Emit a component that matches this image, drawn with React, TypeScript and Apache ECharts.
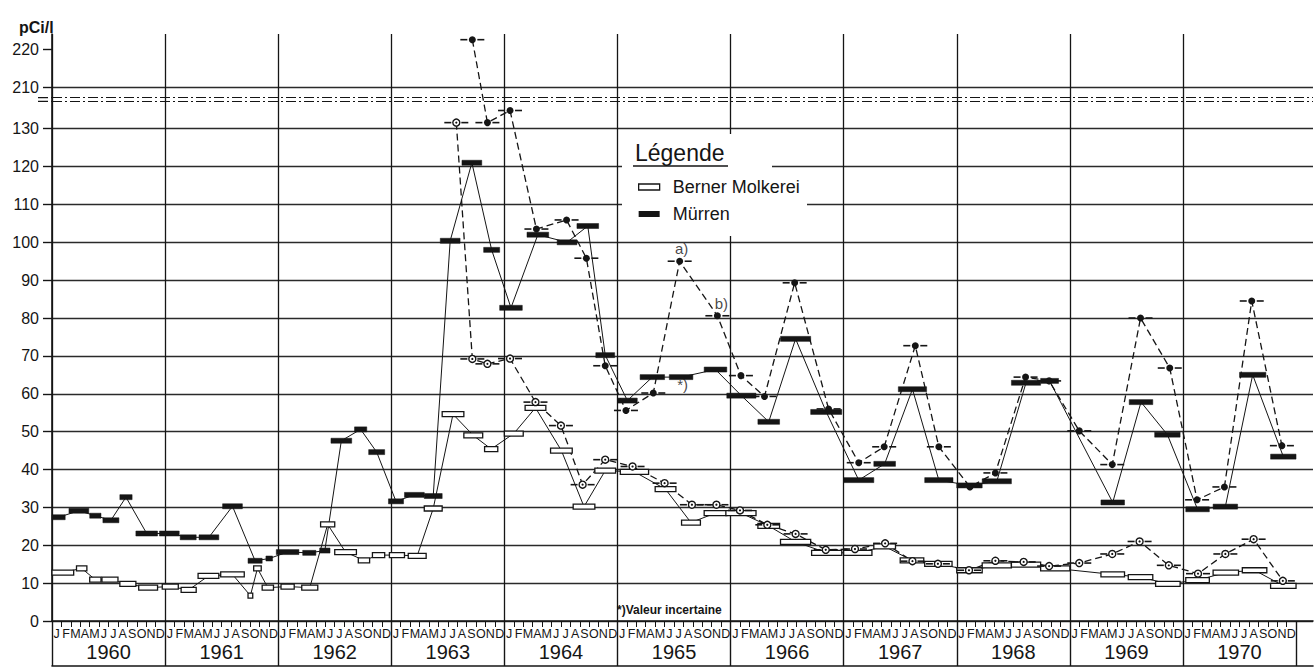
import React, { useEffect, useRef } from "react";
import * as echarts from "echarts";

// ---------- tick labels ----------
const monthLetters = ["J", "F", "M", "A", "M", "J", "J", "A", "S", "O", "N", "D"];
const yearLabels = ["1960", "1961", "1962", "1963", "1964", "1965", "1966", "1967", "1968", "1969", "1970"];
const yTickValues = [0, 10, 20, 30, 40, 50, 60, 70, 80, 90, 100, 110, 120, 130, 210, 220];
const BREAK_SHIFT = 69; // values above the break are drawn 69 units lower
const breakMarks = [137.3, 138.3];

// ---------- data: [start month, end month, pCi/l]  (month 0 = Jan 1960) ----------
const murrenBars: [number, number, number][] = [
  [0, 1.4, 27.4], [1.8, 3.9, 29.1], [4.0, 5.2, 27.8], [5.4, 7.1, 26.6], [7.2, 8.5, 32.7],
  [8.9, 11.2, 23.1], [11.4, 13.5, 23.1], [13.6, 15.3, 22.1], [15.6, 17.7, 22.1], [18.1, 20.2, 30.3],
  [20.8, 22.3, 15.9], [22.7, 23.4, 16.5], [23.8, 26.2, 18.2], [26.6, 28.0, 18.0], [28.4, 29.5, 18.6],
  [29.6, 31.8, 47.6], [32.1, 33.4, 50.6], [33.6, 35.3, 44.6], [35.7, 37.3, 31.6], [37.4, 39.5, 33.3],
  [39.5, 41.4, 33.0], [41.2, 43.3, 100.4], [43.5, 45.6, 121.0], [45.8, 47.5, 98.0], [47.5, 49.9, 82.7],
  [50.4, 52.7, 102.0], [53.6, 55.7, 100.0], [55.7, 58.0, 104.3], [57.7, 59.7, 70.2], [60.0, 62.1, 58.2],
  [62.4, 65.0, 64.4], [65.5, 68.0, 64.4], [69.2, 71.6, 66.4], [71.6, 74.7, 59.5], [74.9, 77.2, 52.6],
  [77.3, 80.5, 74.5], [80.5, 83.8, 55.2], [84.0, 87.2, 37.2], [87.2, 89.5, 41.5], [89.8, 92.8, 61.2],
  [92.6, 95.6, 37.2], [96.0, 98.7, 35.8], [98.7, 101.8, 36.9], [101.8, 104.9, 62.9], [104.9, 106.8, 63.4],
  [111.3, 113.8, 31.3], [114.3, 116.8, 57.8], [117.0, 119.7, 49.2], [120.3, 122.8, 29.5], [123.2, 125.8, 30.2],
  [126.0, 128.8, 65.0], [129.3, 132.0, 43.4],
];

const bernerBars: [number, number, number][] = [
  [0, 2.3, 12.8], [2.6, 3.7, 13.9], [4.0, 5.2, 10.9], [5.3, 7.0, 10.9], [7.2, 8.9, 9.8],
  [9.2, 11.2, 8.8], [11.7, 13.4, 9.1], [13.7, 15.3, 8.2], [15.5, 17.7, 11.9], [17.9, 20.4, 12.3],
  [20.8, 21.3, 6.7], [21.4, 22.2, 13.9], [22.3, 23.5, 8.8], [24.3, 25.7, 9.1], [26.5, 28.2, 8.8],
  [28.5, 30.0, 25.5], [30.0, 32.3, 18.2], [32.5, 33.7, 16.0], [34.0, 35.3, 17.4], [35.8, 37.4, 17.4],
  [37.8, 39.7, 17.2], [39.5, 41.4, 29.7], [41.4, 43.7, 54.6], [43.7, 45.7, 49.0], [45.9, 47.3, 45.4],
  [48.0, 50.0, 49.5], [50.2, 52.4, 56.3], [52.9, 55.2, 45.0], [55.3, 57.6, 30.2], [57.6, 59.8, 39.7],
  [60.3, 63.3, 39.4], [64.0, 66.2, 34.8], [66.8, 68.8, 26.0], [69.2, 71.6, 28.5], [71.5, 74.7, 28.5],
  [74.9, 77.2, 25.1], [77.3, 80.5, 20.9], [80.6, 83.8, 18.0], [84.0, 87.0, 18.0], [87.2, 89.5, 19.7],
  [90.0, 92.5, 16.0], [92.6, 95.5, 15.1], [96.0, 98.7, 13.4], [98.7, 101.8, 14.7], [101.8, 104.9, 14.9],
  [104.9, 108.0, 13.9], [111.3, 113.8, 12.3], [114.2, 116.8, 11.6], [117.1, 119.7, 9.8], [120.3, 122.8, 10.8],
  [123.2, 125.9, 12.8], [126.3, 128.9, 13.4], [129.3, 132.0, 9.3],
];

// ---------- data: single samples [month, pCi/l] ----------
const murrenPoints: [number, number][] = [
  [44.6, 222.5], [46.2, 131.6], [48.6, 134.8], [51.4, 103.5], [54.6, 105.9], [56.7, 95.8],
  [58.7, 67.4], [60.9, 55.6], [63.8, 60.2], [66.6, 95.0], [70.6, 80.6], [73.1, 64.8],
  [75.6, 59.3], [78.8, 89.3], [82.4, 56.0], [85.6, 41.8], [88.3, 46.0], [91.6, 72.7],
  [94.1, 46.0], [97.4, 35.4], [100.1, 39.1], [103.3, 64.4], [105.8, 63.4], [109.0, 50.2],
  [112.5, 41.3], [115.5, 80.0], [118.6, 66.8], [121.5, 32.0], [124.4, 35.4], [127.3, 84.5],
  [130.5, 46.3],
];

const bernerPoints: [number, number][] = [
  [42.9, 131.6], [44.6, 69.2], [46.2, 67.9], [48.6, 69.3], [51.3, 57.8], [54.0, 51.6],
  [56.3, 36.0], [58.7, 42.6], [61.6, 40.8], [65.0, 36.4], [67.9, 30.7], [70.5, 30.7],
  [73.0, 29.2], [75.9, 25.4], [78.9, 23.0], [82.1, 18.8], [85.2, 19.0], [88.4, 20.5],
  [91.3, 15.8], [94.0, 15.1], [97.3, 13.4], [100.1, 15.9], [103.1, 15.6], [105.8, 14.5],
  [109.0, 15.3], [112.5, 17.7], [115.4, 21.0], [118.5, 14.7], [121.6, 12.5], [124.5, 17.7],
  [127.5, 21.6], [130.6, 10.6],
];

const notes: { text: string; at: [number, number]; dx: number; dy: number }[] = [
  { text: "a)", at: [66.6, 95.0], dx: 2, dy: -13 },
  { text: "b)", at: [70.6, 80.6], dx: 4, dy: -12 },
  { text: "*)", at: [66.8, 64.4], dx: 1, dy: 7 },
];

const FONT = "'Liberation Sans', Arial, sans-serif";
const INK = "#151515";

const mapY = (v: number) => (v > 200 ? v - BREAK_SHIFT : v);
const unmapY = (v: number) => (v > 135 ? v + BREAK_SHIFT : v);

function barSeries(name: string, bars: [number, number, number][], hollow: boolean) {
  return {
    type: "custom",
    name,
    z: 5,
    silent: true,
    data: bars.map(([s, e, v]) => [s, e, mapY(v)]),
    encode: { x: [0, 1], y: 2 },
    renderItem: (_p: any, api: any) => {
      const a = api.coord([api.value(0), api.value(2)]);
      const b = api.coord([api.value(1), api.value(2)]);
      const h = 5;
      return {
        type: "rect",
        shape: { x: a[0], y: a[1] - h / 2, width: b[0] - a[0], height: h },
        style: hollow ? { fill: "#fff", stroke: INK, lineWidth: 1.3 } : { fill: INK, stroke: INK, lineWidth: 0.5 },
      };
    },
  };
}

function centerLine(name: string, bars: [number, number, number][]) {
  return {
    type: "line",
    name,
    z: 3,
    silent: true,
    symbol: "none",
    data: bars.map(([s, e, v]) => [(s + e) / 2, mapY(v)]),
    lineStyle: { color: INK, width: 1 },
  };
}

function pointLine(name: string, pts: [number, number][]) {
  return {
    type: "line",
    name,
    z: 3,
    silent: true,
    symbol: "none",
    data: pts.map(([m, v]) => [m, mapY(v)]),
    lineStyle: { color: INK, width: 1.3, type: [7, 4] },
  };
}

function pointMarks(name: string, pts: [number, number][], open: boolean) {
  return {
    type: "custom",
    name,
    z: 6,
    silent: true,
    data: pts.map(([m, v]) => [m, mapY(v)]),
    encode: { x: 0, y: 1 },
    renderItem: (_p: any, api: any) => {
      const p = api.coord([api.value(0), api.value(1)]);
      const children: any[] = [
        { type: "line", shape: { x1: p[0] - 12, y1: p[1], x2: p[0] - 5, y2: p[1] }, style: { stroke: INK, lineWidth: 1.6 } },
        { type: "line", shape: { x1: p[0] + 5, y1: p[1], x2: p[0] + 12, y2: p[1] }, style: { stroke: INK, lineWidth: 1.6 } },
        {
          type: "circle",
          shape: { cx: p[0], cy: p[1], r: 3.5 },
          style: open ? { fill: "#fff", stroke: INK, lineWidth: 1.4 } : { fill: INK },
        },
      ];
      if (open) children.push({ type: "circle", shape: { cx: p[0], cy: p[1], r: 1.1 }, style: { fill: INK } });
      return { type: "group", children };
    },
  };
}

export default function App() {
  const ref = useRef<HTMLDivElement>(null);

  useEffect(() => {
    if (!ref.current) return;
    const chart = echarts.init(ref.current, null, { renderer: "svg" });
    const X_MAX = 133.8;
    const yearTicks = yearLabels.map((_, i) => i * 12).concat([132]);
    const monthTicks = Array.from({ length: 133 }, (_, i) => i);
    const monthCenters = Array.from({ length: 132 }, (_, i) => i + 0.5);
    const yearCenters = yearLabels.map((_, i) => i * 12 + 6);

    const baseX = { type: "value", min: 0, max: X_MAX, gridIndex: 0, position: "bottom" };

    chart.setOption({
      animation: false,
      backgroundColor: "#fff",
      textStyle: { fontFamily: FONT, color: INK },
      grid: { left: 52, right: 2, top: 34, bottom: 48, containLabel: false },
      xAxis: [
        {
          ...baseX,
          interval: 12,
          axisLine: { show: true, lineStyle: { color: INK, width: 1.6 } },
          axisTick: { show: true, customValues: yearTicks, length: 45, lineStyle: { color: INK, width: 1.4 } },
          axisLabel: { show: false },
          splitLine: { show: true, showMaxLine: false, lineStyle: { color: INK, width: 1.3 } },
        },
        {
          ...baseX,
          axisLine: { show: false },
          axisTick: { show: true, customValues: monthTicks, length: 6, lineStyle: { color: INK, width: 1 } },
          axisLabel: {
            show: true,
            customValues: monthCenters,
            formatter: (v: number) => monthLetters[Math.floor(v) % 12],
            margin: 6,
            fontSize: 12.5,
            fontFamily: FONT,
            color: INK,
          },
          splitLine: { show: false },
        },
        {
          ...baseX,
          axisLine: { show: false },
          axisTick: { show: false },
          axisLabel: {
            show: true,
            customValues: yearCenters,
            formatter: (v: number) => yearLabels[Math.floor(v / 12)],
            margin: 21,
            fontSize: 20,
            fontFamily: FONT,
            color: INK,
          },
          splitLine: { show: false },
        },
        {
          ...baseX,
          offset: 45,
          axisLine: { show: true, lineStyle: { color: INK, width: 1.6 } },
          axisTick: { show: false },
          axisLabel: { show: false },
          splitLine: { show: false },
        },
      ],
      yAxis: {
        type: "value",
        min: 0,
        max: 155,
        interval: 10,
        axisLine: { show: true, lineStyle: { color: INK, width: 1.6 } },
        axisTick: { show: true, customValues: yTickValues.map(mapY), length: 9, lineStyle: { color: INK, width: 1.4 } },
        axisLabel: {
          show: true,
          customValues: yTickValues.map(mapY),
          formatter: (v: number) => String(Math.round(unmapY(v))),
          margin: 13,
          fontSize: 16,
          fontFamily: FONT,
          color: INK,
        },
        splitLine: { show: true, showMaxLine: false, lineStyle: { color: "#2a2a2a", width: 1.4 } },
      },
      legend: {
        show: true,
        orient: "vertical",
        left: 638,
        top: 178,
        padding: 0,
        itemWidth: 21,
        itemHeight: 6,
        itemGap: 9,
        z: 20,
        selectedMode: false,
        textStyle: { fontSize: 18, fontFamily: FONT, color: INK, padding: [0, 0, 0, 8] },
        data: [
          { name: "Berner Molkerei", icon: "rect", itemStyle: { color: "#fff", borderColor: INK, borderWidth: 1.3 } },
          { name: "Mürren", icon: "rect", itemStyle: { color: INK, borderWidth: 0 } },
        ],
      },
      graphic: [
        { type: "rect", z: 15, left: 622, top: 134, shape: { width: 150, height: 50 }, style: { fill: "#fff" } },
        { type: "rect", z: 15, left: 622, top: 180, shape: { width: 185, height: 56 }, style: { fill: "#fff" } },
        { type: "text", z: 20, left: 635, top: 141, style: { text: "Légende", font: `23px ${FONT}`, fill: INK } },
        { type: "line", z: 20, shape: { x1: 633, y1: 166, x2: 728, y2: 166 }, style: { stroke: INK, lineWidth: 1.6 } },
        { type: "text", z: 20, left: 19, top: 19, style: { text: "pCi/l", font: `bold 16px ${FONT}`, fill: INK } },
        { type: "text", z: 20, left: 617, top: 604, style: { text: "*)Valeur incertaine", font: `bold 12px ${FONT}`, fill: INK } },
        { type: "line", z: 20, shape: { x1: 38, y1: 97.7, x2: 52, y2: 97.7 }, style: { stroke: INK, lineWidth: 1.2, lineDash: [10, 3, 2, 3] } },
        { type: "line", z: 20, shape: { x1: 38, y1: 101.3, x2: 52, y2: 101.3 }, style: { stroke: INK, lineWidth: 1.2, lineDash: [10, 3, 2, 3] } },
      ],
      series: [
        centerLine("Berner Molkerei", bernerBars),
        centerLine("Mürren", murrenBars),
        pointLine("Mürren (prélèvements)", murrenPoints),
        pointLine("Berner Molkerei (prélèvements)", bernerPoints),
        barSeries("Berner Molkerei", bernerBars, true),
        barSeries("Mürren", murrenBars, false),
        pointMarks("Mürren (prélèvements)", murrenPoints, false),
        pointMarks("Berner Molkerei (prélèvements)", bernerPoints, true),
        {
          type: "scatter",
          name: "notes",
          z: 7,
          silent: true,
          symbolSize: 0,
          data: notes.map((n) => ({
            value: [n.at[0], mapY(n.at[1])],
            label: { show: true, formatter: n.text, offset: [n.dx, n.dy], fontSize: 15, fontFamily: FONT, color: INK },
          })),
        },
        {
          type: "line",
          name: "break",
          data: [],
          silent: true,
          markLine: {
            silent: true,
            symbol: "none",
            label: { show: false },
            lineStyle: { color: INK, width: 1.2, type: [10, 3, 2, 3] },
            data: breakMarks.map((b) => ({ yAxis: b })),
          },
        },
      ],
    });
    return () => chart.dispose();
  }, []);

  return <div ref={ref} style={{ position: "absolute", left: 0, top: 0, width: 1315, height: 669, background: "#fff" }} />;
}
